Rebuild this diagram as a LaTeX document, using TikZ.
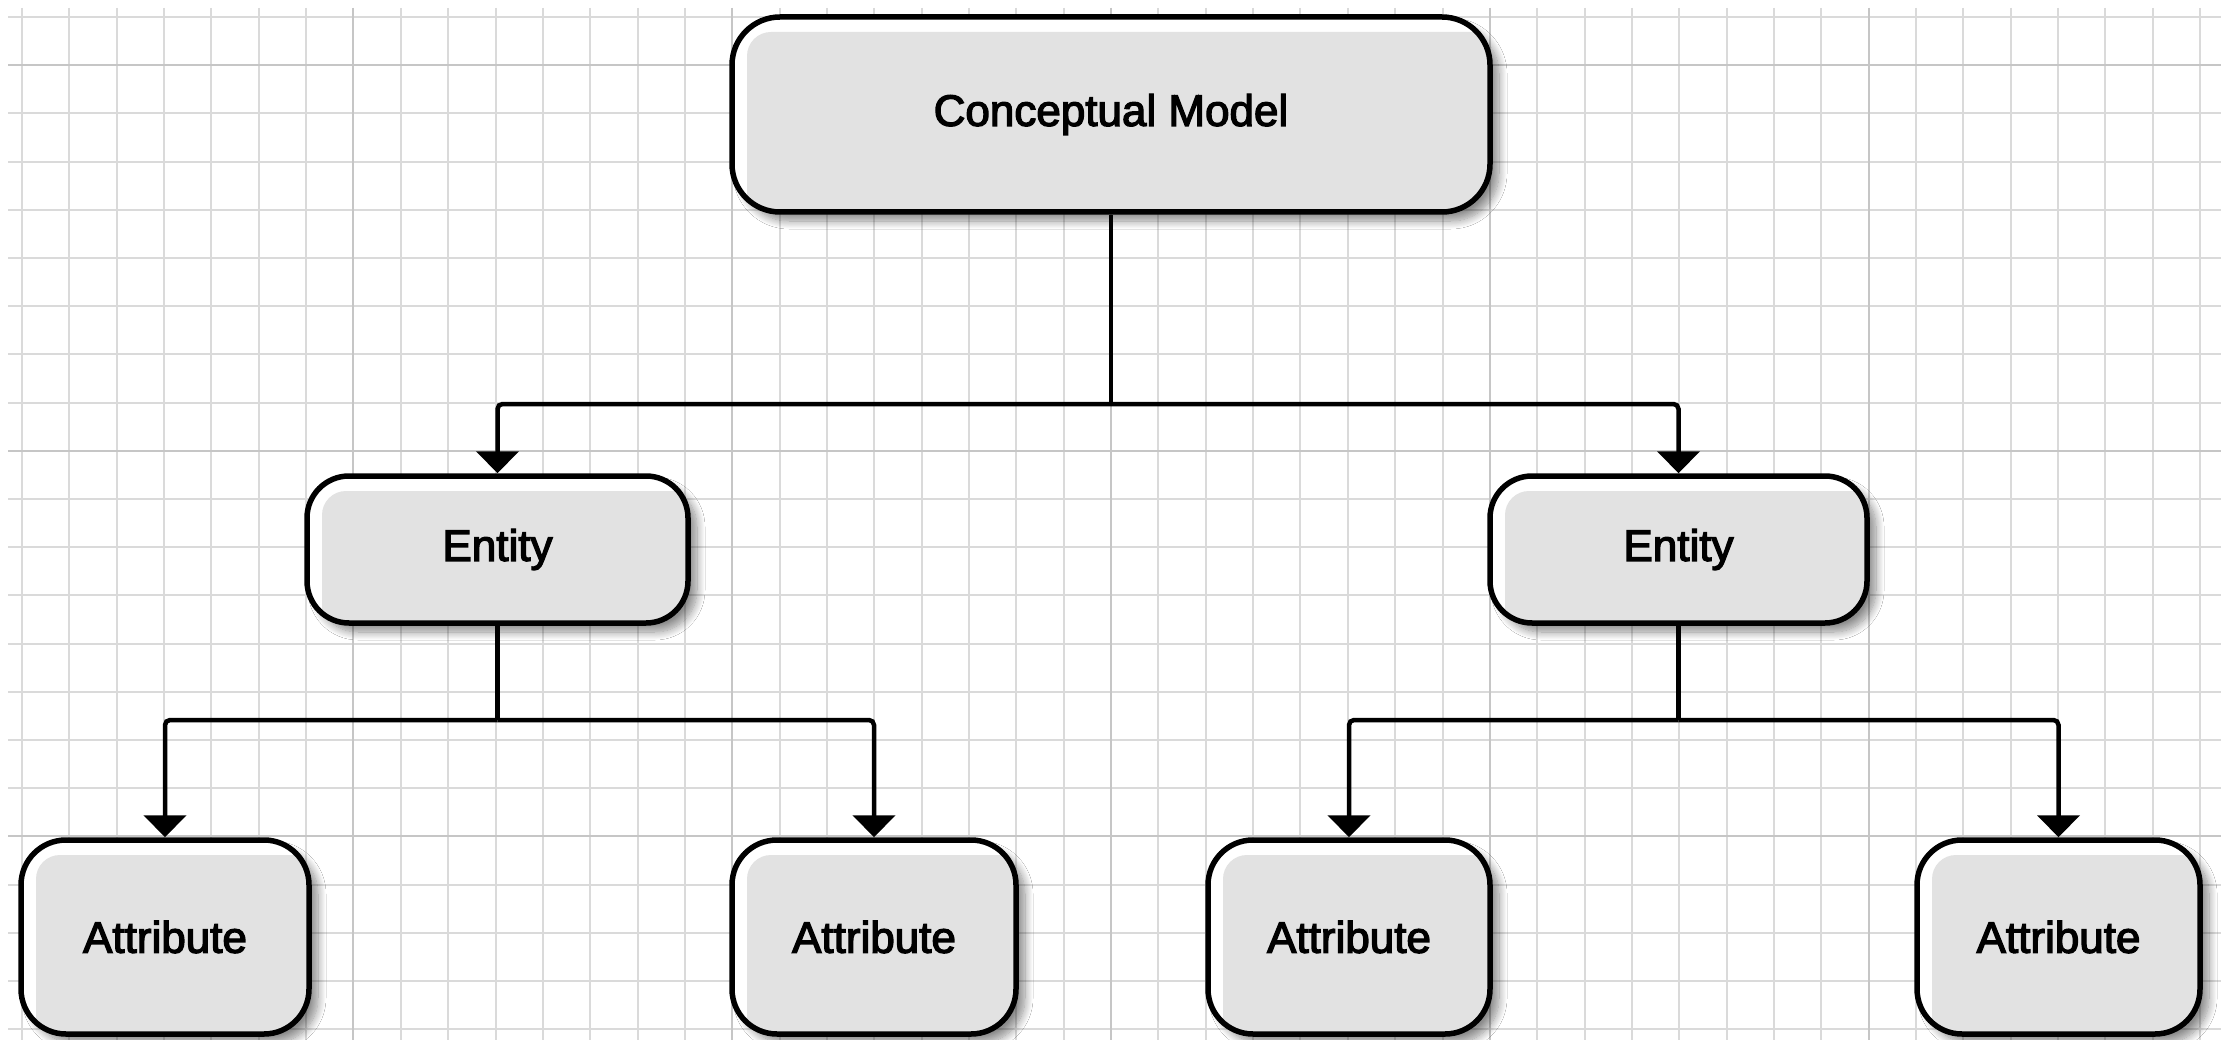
\documentclass[tikz,border=0pt]{standalone}
\usepackage{fontspec}
\setmainfont{Liberation Sans}
\newfontfamily\boxfont{Liberation Sans}[FakeBold=3]
\usetikzlibrary{arrows.meta,shadows.blur}
\definecolor{boxfill}{RGB}{226,226,226}
\definecolor{gridminor}{RGB}{218,218,218}
\definecolor{gridmajor}{RGB}{198,198,198}
\tikzset{
  box/.style={draw=black, line width=5.5pt, fill=white, rounded corners=#1,
    blur shadow={shadow xshift=9pt, shadow yshift=-9pt, shadow blur radius=8pt, shadow blur steps=12, shadow opacity=45},
    path picture={\fill[boxfill, rounded corners=24pt]
      ([shift={(15pt,-15pt)}]path picture bounding box.north west) rectangle
      ([shift={(40pt,-40pt)}]path picture bounding box.south east);},
    inner sep=0pt, font=\boxfont\fontsize{44}{50}\selectfont},
  conn/.style={draw=black, line width=4.5pt, rounded corners=5pt},
  arr/.style={conn, -{Triangle[width=42pt,length=22pt]}}
}
\begin{document}
\begin{tikzpicture}[x=1pt,y=-1pt]
\useasboundingbox (0,0) rectangle (2221,1040);
\fill[white] (0,0) rectangle (2221,1040);
% grid
\foreach \i in {0,...,46} {
  \draw[gridminor, line width=2pt] ({22+47.35*\i},8) -- ({22+47.35*\i},1040);
}
\foreach \j in {0,...,21} {
  \draw[gridminor, line width=2pt] (8,{17+48.2*\j}) -- (2221,{17+48.2*\j});
}
\foreach \i in {0,...,5} {
  \draw[gridmajor, line width=2pt] ({22+47.35*(7+8*\i)},8) -- ({22+47.35*(7+8*\i)},1040);
}
\foreach \j in {1,9,17} {
  \draw[gridmajor, line width=2pt] (8,{17+48.2*\j}) -- (2221,{17+48.2*\j});
}
% nodes
\node[box=48pt, minimum width=758pt, minimum height=195pt] (cm) at (1111,114.5) {Conceptual Model};
\node[box=42pt, minimum width=381pt, minimum height=147pt] (e1) at (497.5,549.5) {Entity};
\node[box=42pt, minimum width=377pt, minimum height=147pt] (e2) at (1678.5,549.5) {Entity};
\node[box=45pt, minimum width=288pt, minimum height=194pt] (a1) at (165,937) {Attribute};
\node[box=45pt, minimum width=284pt, minimum height=194pt] (a2) at (874,937) {Attribute};
\node[box=45pt, minimum width=282pt, minimum height=194pt] (a3) at (1349,937) {Attribute};
\node[box=45pt, minimum width=283pt, minimum height=194pt] (a4) at (2058.5,937) {Attribute};
% connectors
\coordinate (j0) at (cm.south |- 0,404);
\coordinate (j1) at (e1.south |- 0,720);
\coordinate (j2) at (e2.south |- 0,720);
\draw[conn] (cm.south) -- (j0);
\draw[arr] (j0) -| (e1.north);
\draw[arr] (j0) -| (e2.north);
\draw[conn] (e1.south) -- (j1);
\draw[arr] (j1) -| (a1.north);
\draw[arr] (j1) -| (a2.north);
\draw[conn] (e2.south) -- (j2);
\draw[arr] (j2) -| (a3.north);
\draw[arr] (j2) -| (a4.north);
\end{tikzpicture}
\end{document}
